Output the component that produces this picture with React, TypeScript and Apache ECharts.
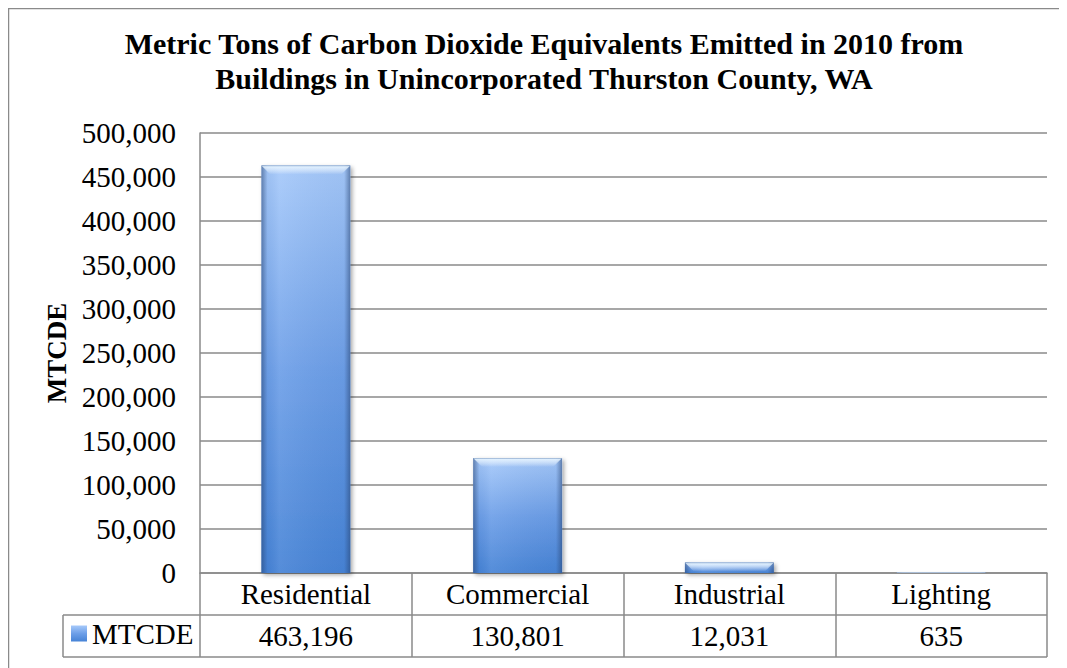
import React, { useEffect, useRef } from "react";
import * as echarts from "echarts";

// Building-sector emissions, 2010
const categories: string[] = ["Residential", "Commercial", "Industrial", "Lighting"];
const mtcde: number[] = [463196, 130801, 12031, 635];
const seriesName = "MTCDE";
const yMin = 0;
const yMax = 500000;
const yStep = 50000;

const titleLines: string[] = [
  "Metric Tons of Carbon Dioxide Equivalents Emitted in 2010 from",
  "Buildings in Unincorporated Thurston County, WA",
];

const SERIF = "Liberation Serif";
const fmt = (v: number) => v.toLocaleString("en-US");

// layout (chart-local pixels)
const W = 1059;
const H = 660;
const GRID_LEFT = 192;
const GRID_TOP = 125;
const GRID_W = 847;
const GRID_H = 440;
const ROW_H = 42;
const KEY_CELL_LEFT = 55;
const LINE_COLOR = "#8a8a8a";
const FONT_SIZE = 29;
const BAR_RATIO = 0.42;

const LG = echarts.graphic.LinearGradient;

// vertical body shading of a bar
const bodyFill = () =>
  new LG(0, 0, 0, 1, [
    { offset: 0, color: "#a6c9fa" },
    { offset: 0.5, color: "#6d9fe8" },
    { offset: 1, color: "#4683d6" },
  ]);

// darker rims on the left and right sides
const rimFill = () =>
  new LG(0, 0, 1, 0, [
    { offset: 0, color: "rgba(38,66,112,0.55)" },
    { offset: 0.07, color: "rgba(38,66,112,0.05)" },
    { offset: 0.2, color: "rgba(255,255,255,0.08)" },
    { offset: 0.93, color: "rgba(38,66,112,0.05)" },
    { offset: 1, color: "rgba(38,66,112,0.55)" },
  ]);

// light bevel along the top edge
const topFill = () =>
  new LG(0, 0, 0, 1, [
    { offset: 0, color: "rgba(120,150,190,0.9)" },
    { offset: 0.15, color: "rgba(230,244,255,0.9)" },
    { offset: 1, color: "rgba(255,255,255,0)" },
  ]);

export default function App() {
  const ref = useRef<HTMLDivElement>(null);

  useEffect(() => {
    if (!ref.current) return;
    const chart = echarts.init(ref.current, null, { renderer: "svg" });

    const gridBottom = GRID_TOP + GRID_H;
    const right = GRID_LEFT + GRID_W;

    const renderBar = (params: any, api: any) => {
      const idx = api.value(0);
      const val = api.value(1);
      const top = api.coord([idx, val]);
      const base = api.coord([idx, 0]);
      const band = api.size([1, 0])[0];
      const w = band * BAR_RATIO;
      const x = top[0] - w / 2;
      const y = top[1];
      const h = Math.max(base[1] - top[1], 0.5);
      const bevel = Math.min(9, h);
      return {
        type: "group",
        children: [
          {
            type: "rect",
            shape: { x, y, width: w, height: h },
            style: {
              fill: bodyFill(),
              shadowColor: "rgba(0,0,0,0.35)",
              shadowBlur: 4,
              shadowOffsetX: 2,
              shadowOffsetY: 2,
            },
          },
          {
            type: "rect",
            shape: { x, y, width: w, height: h },
            style: { fill: rimFill() },
          },
          {
            type: "polygon",
            shape: {
              points: [
                [x, y],
                [x + w, y],
                [x + w - Math.min(bevel, w / 2), y + bevel],
                [x + Math.min(bevel, w / 2), y + bevel],
              ],
            },
            style: { fill: topFill() },
          },
        ],
      };
    };

    chart.setOption({
      animation: false,
      backgroundColor: "#ffffff",
      textStyle: { fontFamily: SERIF, color: "#000" },
      grid: {
        left: GRID_LEFT,
        top: GRID_TOP,
        width: GRID_W,
        height: GRID_H,
        containLabel: false,
      },
      legend: {
        data: [seriesName],
        left: KEY_CELL_LEFT + 8,
        top: gridBottom + ROW_H + 4,
        padding: 0,
        itemWidth: 16,
        itemHeight: 16,
        itemGap: 0,
        icon: "rect",
        textStyle: { fontFamily: SERIF, fontSize: FONT_SIZE, color: "#000" },
      },
      xAxis: {
        type: "category",
        data: categories,
        boundaryGap: true,
        axisLine: { show: true, lineStyle: { color: LINE_COLOR, width: 1.5 } },
        axisTick: {
          show: true,
          alignWithLabel: false,
          interval: 0,
          length: ROW_H * 2,
          lineStyle: { color: LINE_COLOR, width: 1.5 },
        },
        axisLabel: {
          interval: 0,
          margin: 0,
          formatter: (value: string, idx: number) =>
            `{c|${value}}\n{v|${fmt(mtcde[idx])}}`,
          rich: {
            c: { fontFamily: SERIF, fontSize: FONT_SIZE, lineHeight: ROW_H, color: "#000" },
            v: { fontFamily: SERIF, fontSize: FONT_SIZE, lineHeight: ROW_H, color: "#000" },
          },
        },
        splitLine: { show: false },
      },
      yAxis: {
        type: "value",
        min: yMin,
        max: yMax,
        interval: yStep,
        name: "MTCDE",
        nameLocation: "middle",
        nameRotate: 90,
        nameGap: 128,
        nameTextStyle: { fontFamily: SERIF, fontSize: 27, fontWeight: "bold", color: "#000" },
        axisLine: { show: true, lineStyle: { color: LINE_COLOR, width: 1.5 } },
        axisTick: { show: false },
        axisLabel: {
          margin: 24,
          fontFamily: SERIF,
          fontSize: FONT_SIZE,
          color: "#000",
          formatter: (v: number) => fmt(v),
        },
        splitLine: { show: true, lineStyle: { color: LINE_COLOR, width: 1.5 } },
      },
      series: [
        {
          name: seriesName,
          type: "custom",
          renderItem: renderBar,
          encode: { x: 0, y: 1 },
          data: mtcde.map((v, i) => [i, v]),
          itemStyle: { color: bodyFill() },
          z: 3,
        },
      ],
      graphic: [
        // outer chart frame
        {
          type: "rect",
          silent: true,
          shape: { x: 0.5, y: 0.5, width: W + 40, height: H + 40 },
          style: { fill: "none", stroke: LINE_COLOR, lineWidth: 1.5 },
        },
        {
          type: "text",
          silent: true,
          x: 536,
          y: 18,
          style: {
            text: titleLines.join("\n"),
            font: `bold 30px ${SERIF}`,
            lineHeight: 35,
            fill: "#000",
            textAlign: "center",
            textVerticalAlign: "top",
          },
        },
        // data table rules
        {
          type: "line",
          silent: true,
          shape: { x1: KEY_CELL_LEFT, y1: gridBottom + ROW_H, x2: right, y2: gridBottom + ROW_H },
          style: { stroke: LINE_COLOR, lineWidth: 1.5 },
        },
        {
          type: "line",
          silent: true,
          shape: { x1: KEY_CELL_LEFT, y1: gridBottom + ROW_H * 2, x2: right, y2: gridBottom + ROW_H * 2 },
          style: { stroke: LINE_COLOR, lineWidth: 1.5 },
        },
        {
          type: "line",
          silent: true,
          shape: { x1: KEY_CELL_LEFT, y1: gridBottom + ROW_H, x2: KEY_CELL_LEFT, y2: gridBottom + ROW_H * 2 },
          style: { stroke: LINE_COLOR, lineWidth: 1.5 },
        },
      ],
    });

    return () => chart.dispose();
  }, []);

  return <div ref={ref} style={{ width: W, height: H }} />;
}
